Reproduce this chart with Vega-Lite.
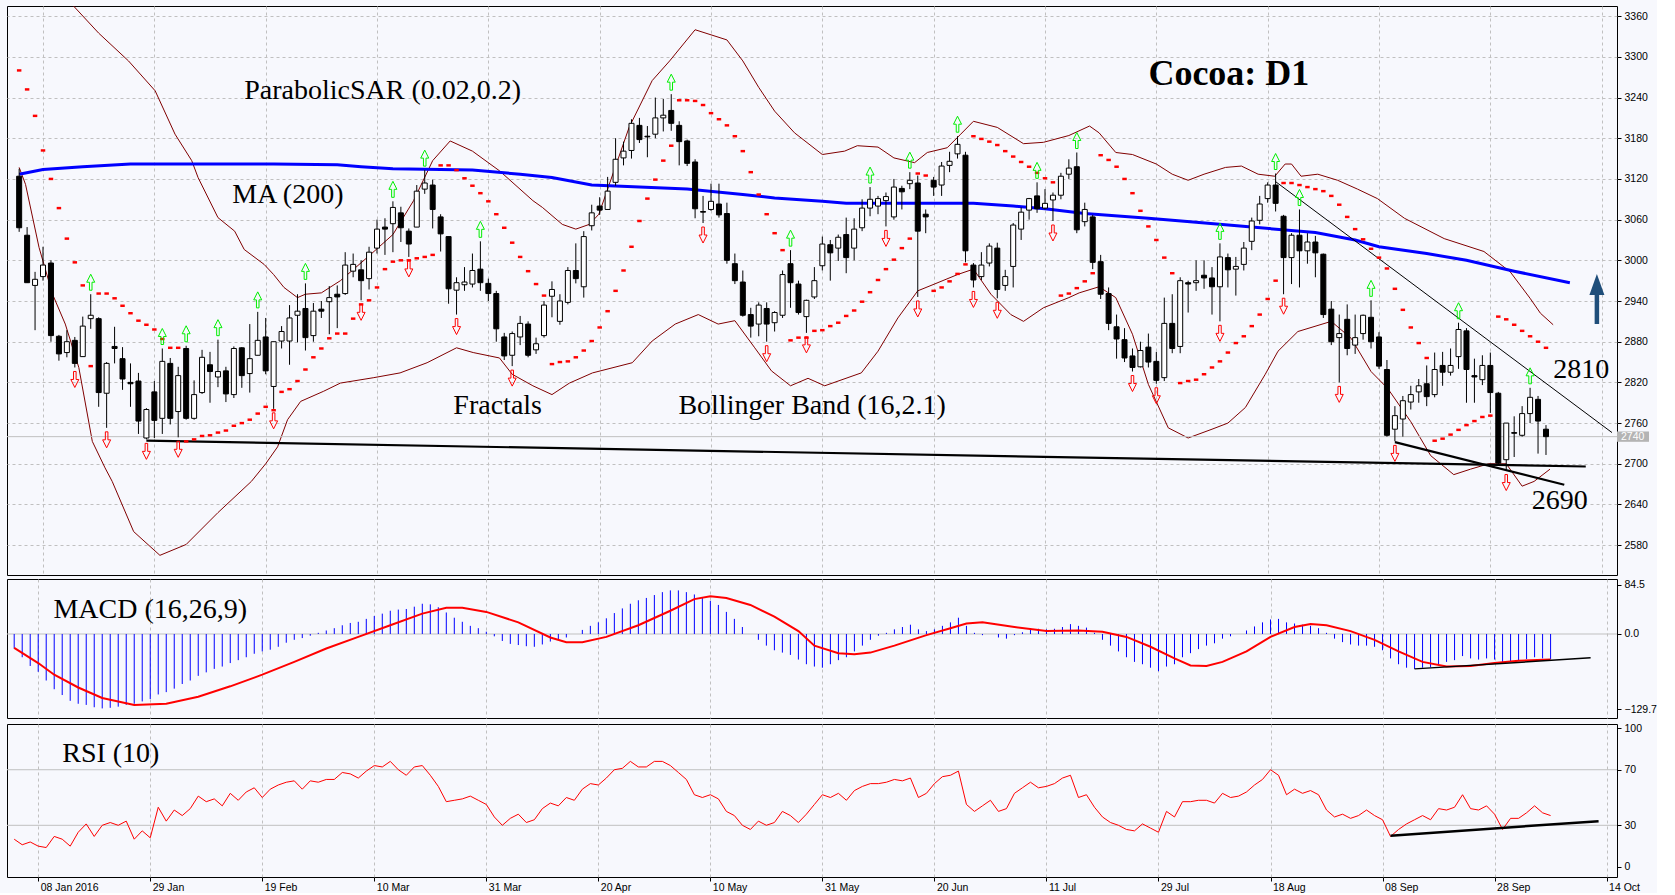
{
"$schema": "https://vega.github.io/schema/vega-lite/v6.json",
"background": "#F7F8FD",
"padding": {"left": 6, "top": 5, "right": 0, "bottom": 0},
"spacing": 2,
"config": {
  "view": {"stroke": "#000000", "strokeWidth": 1},
  "axis": {"labelFont": "Liberation Sans", "labelFontSize": 10.5, "labelColor": "#000000", "tickColor": "#000000", "domain": false, "labelFlush": false, "labelOverlap": false, "gridColor": "#C0C0C0", "gridDash": [3, 3], "gridWidth": 1}
},
"datasets": {
"bars": [
{"i":-3,"o":3124,"h":3135,"l":3042,"c":3048,"s":3280,"m":-25,"r":20},
{"i":-2,"o":3037,"h":3049,"l":2967,"c":2967,"s":3252,"m":-40,"r":16},
{"i":-1,"o":2963,"h":2983,"l":2897,"c":2972,"s":3213,"m":-55,"r":18},
{"i":0,"o":2976,"h":3020,"l":2970,"c":2993,"s":3162,"m":-65,"r":15},
{"i":1,"o":2996,"h":3000,"l":2880,"c":2889,"s":3120,"m":-80,"r":14},
{"i":2,"o":2888,"h":2890,"l":2852,"c":2862,"s":3077,"m":-95,"r":22},
{"i":3,"o":2864,"h":2897,"l":2857,"c":2880,"s":3032,"m":-105,"r":20},
{"i":4,"o":2882,"h":2887,"l":2842,"c":2848,"s":2997,"m":-115,"r":15,"fd":1},
{"i":5,"o":2858,"h":2917,"l":2858,"c":2903,"s":2963,"m":-120,"r":25},
{"i":6,"o":2914,"h":2950,"l":2899,"c":2919,"s":2844,"m":-122,"r":31,"fu":1},
{"i":7,"o":2914,"h":2916,"l":2784,"c":2805,"s":2951,"m":-126,"r":22},
{"i":8,"o":2804,"h":2850,"l":2753,"c":2848,"s":2951,"m":-128,"r":30,"fd":1},
{"i":9,"o":2873,"h":2902,"l":2848,"c":2870,"s":2944,"m":-127,"r":32},
{"i":10,"o":2855,"h":2872,"l":2809,"c":2825,"s":2933,"m":-125,"r":30},
{"i":11,"o":2820,"h":2848,"l":2784,"c":2818,"s":2922,"m":-122,"r":33},
{"i":12,"o":2822,"h":2834,"l":2744,"c":2763,"s":2911,"m":-120,"r":20},
{"i":13,"o":2738,"h":2782,"l":2736,"c":2780,"s":2905,"m":-116,"r":26,"fd":1},
{"i":14,"o":2806,"h":2822,"l":2738,"c":2764,"s":2898,"m":-112,"r":21},
{"i":15,"o":2767,"h":2870,"l":2744,"c":2851,"s":2884,"m":-104,"r":43,"fu":1},
{"i":16,"o":2848,"h":2856,"l":2758,"c":2767,"s":2871,"m":-100,"r":33},
{"i":17,"o":2777,"h":2843,"l":2739,"c":2830,"s":2871,"m":-94,"r":41,"fd":1},
{"i":18,"o":2870,"h":2874,"l":2765,"c":2767,"s":2733,"m":-86,"r":37,"fu":1},
{"i":19,"o":2767,"h":2823,"l":2765,"c":2802,"s":2736,"m":-80,"r":42},
{"i":20,"o":2805,"h":2868,"l":2803,"c":2857,"s":2741,"m":-72,"r":51},
{"i":21,"o":2846,"h":2865,"l":2790,"c":2836,"s":2742,"m":-66,"r":47},
{"i":22,"o":2828,"h":2883,"l":2813,"c":2836,"s":2746,"m":-60,"r":49,"fu":1},
{"i":23,"o":2837,"h":2843,"l":2791,"c":2803,"s":2749,"m":-56,"r":44},
{"i":24,"o":2802,"h":2873,"l":2797,"c":2870,"s":2756,"m":-50,"r":53},
{"i":25,"o":2871,"h":2872,"l":2812,"c":2830,"s":2760,"m":-45,"r":48},
{"i":26,"o":2833,"h":2906,"l":2805,"c":2855,"s":2765,"m":-40,"r":54},
{"i":27,"o":2860,"h":2924,"l":2860,"c":2882,"s":2774,"m":-34,"r":57,"fu":1},
{"i":28,"o":2887,"h":2915,"l":2832,"c":2837,"s":2784,"m":-30,"r":50},
{"i":29,"o":2814,"h":2880,"l":2781,"c":2880,"s":2779,"m":-27,"r":56,"fd":1},
{"i":30,"o":2881,"h":2903,"l":2870,"c":2895,"s":2806,"m":-22,"r":59},
{"i":31,"o":2881,"h":2934,"l":2846,"c":2915,"s":2810,"m":-15,"r":61},
{"i":32,"o":2919,"h":2950,"l":2879,"c":2925,"s":2822,"m":-10,"r":62},
{"i":33,"o":2929,"h":2966,"l":2867,"c":2886,"s":2839,"m":-7,"r":56,"fu":1},
{"i":34,"o":2889,"h":2937,"l":2880,"c":2925,"s":2857,"m":-3,"r":62},
{"i":35,"o":2928,"h":2940,"l":2915,"c":2925,"s":2870,"m":2,"r":61},
{"i":36,"o":2939,"h":2962,"l":2891,"c":2945,"s":2885,"m":6,"r":63},
{"i":37,"o":2950,"h":2963,"l":2900,"c":2946,"s":2892,"m":10,"r":63},
{"i":38,"o":2951,"h":3012,"l":2949,"c":2993,"s":2892,"m":15,"r":68},
{"i":39,"o":2984,"h":3010,"l":2975,"c":2994,"s":2914,"m":19,"r":67},
{"i":40,"o":2986,"h":3000,"l":2941,"c":2970,"s":2935,"m":21,"r":64,"fd":1},
{"i":41,"o":2973,"h":3020,"l":2957,"c":3012,"s":2941,"m":26,"r":69},
{"i":42,"o":3018,"h":3060,"l":3010,"c":3046,"s":2960,"m":31,"r":73},
{"i":43,"o":3049,"h":3062,"l":3008,"c":3046,"s":2987,"m":35,"r":72},
{"i":44,"o":3054,"h":3087,"l":3012,"c":3078,"s":2998,"m":40,"r":76,"fu":1},
{"i":45,"o":3070,"h":3079,"l":3027,"c":3048,"s":3000,"m":42,"r":70},
{"i":46,"o":3043,"h":3047,"l":3005,"c":3024,"s":3000,"m":43,"r":66,"fd":1},
{"i":47,"o":3049,"h":3111,"l":3049,"c":3102,"s":3003,"m":47,"r":72},
{"i":48,"o":3105,"h":3133,"l":3098,"c":3114,"s":3005,"m":52,"r":73,"fu":1},
{"i":49,"o":3111,"h":3119,"l":3047,"c":3075,"s":3008,"m":51,"r":66},
{"i":50,"o":3064,"h":3068,"l":3013,"c":3039,"s":3140,"m":46,"r":58},
{"i":51,"o":3035,"h":3035,"l":2936,"c":2958,"s":3140,"m":37,"r":47},
{"i":52,"o":2956,"h":2975,"l":2920,"c":2967,"s":3133,"m":28,"r":48,"fd":1},
{"i":53,"o":2964,"h":2990,"l":2955,"c":2968,"s":3121,"m":21,"r":49},
{"i":54,"o":2965,"h":3010,"l":2960,"c":2985,"s":3110,"m":14,"r":51},
{"i":55,"o":2987,"h":3028,"l":2955,"c":2967,"s":3099,"m":10,"r":48,"fu":1},
{"i":56,"o":2966,"h":2973,"l":2940,"c":2951,"s":3087,"m":4,"r":45},
{"i":57,"o":2951,"h":2955,"l":2880,"c":2899,"s":3068,"m":-4,"r":36},
{"i":58,"o":2887,"h":2893,"l":2853,"c":2859,"s":3048,"m":-12,"r":30},
{"i":59,"o":2860,"h":2895,"l":2844,"c":2892,"s":3026,"m":-17,"r":35,"fd":1},
{"i":60,"o":2887,"h":2918,"l":2875,"c":2907,"s":3005,"m":-19,"r":38},
{"i":61,"o":2906,"h":2910,"l":2857,"c":2860,"s":2984,"m":-21,"r":32},
{"i":62,"o":2868,"h":2886,"l":2862,"c":2877,"s":2965,"m":-22,"r":34},
{"i":63,"o":2889,"h":2940,"l":2886,"c":2934,"s":2948,"m":-18,"r":42},
{"i":64,"o":2947,"h":2969,"l":2916,"c":2957,"s":2847,"m":-13,"r":46},
{"i":65,"o":2910,"h":2950,"l":2905,"c":2940,"s":2850,"m":-10,"r":44},
{"i":66,"o":2938,"h":2990,"l":2935,"c":2985,"s":2851,"m":-6,"r":50},
{"i":67,"o":2985,"h":3025,"l":2966,"c":2973,"s":2857,"m":0,"r":48},
{"i":68,"o":2961,"h":3043,"l":2945,"c":3035,"s":2867,"m":7,"r":56},
{"i":69,"o":3051,"h":3082,"l":3044,"c":3070,"s":2881,"m":14,"r":60},
{"i":70,"o":3080,"h":3093,"l":3067,"c":3074,"s":2901,"m":20,"r":59},
{"i":71,"o":3075,"h":3123,"l":3075,"c":3102,"s":2925,"m":27,"r":64},
{"i":72,"o":3115,"h":3180,"l":3110,"c":3149,"s":2955,"m":36,"r":70},
{"i":73,"o":3151,"h":3175,"l":3140,"c":3161,"s":2985,"m":44,"r":71},
{"i":74,"o":3162,"h":3208,"l":3150,"c":3202,"s":3020,"m":52,"r":76},
{"i":75,"o":3199,"h":3210,"l":3173,"c":3178,"s":3058,"m":58,"r":72},
{"i":76,"o":3183,"h":3198,"l":3152,"c":3182,"s":3091,"m":62,"r":72},
{"i":77,"o":3186,"h":3240,"l":3180,"c":3210,"s":3119,"m":67,"r":76},
{"i":78,"o":3210,"h":3238,"l":3190,"c":3214,"s":3147,"m":72,"r":76},
{"i":79,"o":3221,"h":3245,"l":3191,"c":3202,"s":3169,"m":75,"r":73,"fu":1},
{"i":80,"o":3199,"h":3205,"l":3140,"c":3175,"s":3236,"m":75,"r":68},
{"i":81,"o":3176,"h":3178,"l":3139,"c":3143,"s":3236,"m":72,"r":63},
{"i":82,"o":3145,"h":3149,"l":3062,"c":3076,"s":3235,"m":68,"r":52},
{"i":83,"o":3072,"h":3095,"l":3055,"c":3071,"s":3229,"m":62,"r":50,"fd":1},
{"i":84,"o":3075,"h":3113,"l":3073,"c":3087,"s":3217,"m":57,"r":52},
{"i":85,"o":3083,"h":3113,"l":3063,"c":3067,"s":3208,"m":50,"r":49},
{"i":86,"o":3069,"h":3085,"l":2995,"c":3000,"s":3199,"m":38,"r":40},
{"i":87,"o":2995,"h":3010,"l":2965,"c":2970,"s":3183,"m":26,"r":37},
{"i":88,"o":2968,"h":2985,"l":2917,"c":2919,"s":3161,"m":12,"r":30},
{"i":89,"o":2920,"h":2930,"l":2886,"c":2903,"s":3130,"m":0,"r":27},
{"i":90,"o":2906,"h":2938,"l":2888,"c":2934,"s":3097,"m":-10,"r":33},
{"i":91,"o":2929,"h":2938,"l":2880,"c":2906,"s":3068,"m":-20,"r":30,"fd":1},
{"i":92,"o":2908,"h":2925,"l":2895,"c":2923,"s":3040,"m":-28,"r":32},
{"i":93,"o":2919,"h":2985,"l":2915,"c":2979,"s":3015,"m":-32,"r":40},
{"i":94,"o":2995,"h":3015,"l":2930,"c":2967,"s":2882,"m":-36,"r":37,"fu":1},
{"i":95,"o":2965,"h":2970,"l":2920,"c":2923,"s":2886,"m":-44,"r":32},
{"i":96,"o":2917,"h":2942,"l":2893,"c":2941,"s":2886,"m":-52,"r":38,"fd":1},
{"i":97,"o":2946,"h":2990,"l":2943,"c":2970,"s":2896,"m":-56,"r":45},
{"i":98,"o":2992,"h":3035,"l":2985,"c":3024,"s":2897,"m":-58,"r":52},
{"i":99,"o":3023,"h":3030,"l":2970,"c":3011,"s":2903,"m":-52,"r":50},
{"i":100,"o":3018,"h":3038,"l":2999,"c":3034,"s":2908,"m":-45,"r":53},
{"i":101,"o":3038,"h":3063,"l":2981,"c":3004,"s":2918,"m":-40,"r":48},
{"i":102,"o":3018,"h":3062,"l":3000,"c":3046,"s":2926,"m":-30,"r":55},
{"i":103,"o":3048,"h":3090,"l":3043,"c":3077,"s":2939,"m":-20,"r":58},
{"i":104,"o":3077,"h":3108,"l":3065,"c":3090,"s":2953,"m":-10,"r":60,"fu":1},
{"i":105,"o":3080,"h":3095,"l":3068,"c":3091,"s":2971,"m":-3,"r":60},
{"i":106,"o":3088,"h":3100,"l":3050,"c":3094,"s":2987,"m":2,"r":61,"fd":1},
{"i":107,"o":3064,"h":3120,"l":3060,"c":3108,"s":3001,"m":8,"r":63},
{"i":108,"o":3106,"h":3110,"l":3075,"c":3101,"s":3018,"m":12,"r":62},
{"i":109,"o":3113,"h":3130,"l":3105,"c":3118,"s":3032,"m":16,"r":64,"fu":1},
{"i":110,"o":3114,"h":3125,"l":2946,"c":3043,"s":3128,"m":8,"r":50,"fd":1},
{"i":111,"o":3068,"h":3075,"l":3040,"c":3064,"s":3125,"m":5,"r":53},
{"i":112,"o":3118,"h":3123,"l":3095,"c":3108,"s":2955,"m":8,"r":60},
{"i":113,"o":3111,"h":3145,"l":3095,"c":3139,"s":2960,"m":14,"r":65},
{"i":114,"o":3140,"h":3160,"l":3130,"c":3146,"s":2969,"m":20,"r":66},
{"i":115,"o":3157,"h":3183,"l":3150,"c":3171,"s":2980,"m":28,"r":69,"fu":1},
{"i":116,"o":3155,"h":3160,"l":2997,"c":3014,"s":2994,"m":14,"r":45},
{"i":117,"o":2993,"h":2996,"l":2960,"c":2971,"s":3183,"m":2,"r":40,"fd":1},
{"i":118,"o":2976,"h":3012,"l":2971,"c":2993,"s":3179,"m":-2,"r":44},
{"i":119,"o":2996,"h":3025,"l":2991,"c":3021,"s":3175,"m":0,"r":48},
{"i":120,"o":3018,"h":3026,"l":2944,"c":2957,"s":3170,"m":-6,"r":40,"fd":1},
{"i":121,"o":2963,"h":2986,"l":2955,"c":2976,"s":3161,"m":-8,"r":42},
{"i":122,"o":2991,"h":3055,"l":2960,"c":3052,"s":3153,"m":-2,"r":53},
{"i":123,"o":3046,"h":3078,"l":3030,"c":3071,"s":3145,"m":3,"r":57},
{"i":124,"o":3074,"h":3092,"l":3060,"c":3091,"s":3138,"m":7,"r":61},
{"i":125,"o":3095,"h":3115,"l":3070,"c":3076,"s":3129,"m":9,"r":57,"fu":1},
{"i":126,"o":3077,"h":3105,"l":3075,"c":3084,"s":3121,"m":8,"r":58},
{"i":127,"o":3089,"h":3100,"l":3058,"c":3096,"s":3115,"m":9,"r":60,"fd":1},
{"i":128,"o":3096,"h":3129,"l":3090,"c":3124,"s":2948,"m":12,"r":64},
{"i":129,"o":3127,"h":3149,"l":3120,"c":3136,"s":2951,"m":17,"r":66},
{"i":130,"o":3138,"h":3159,"l":3040,"c":3045,"s":2959,"m":14,"r":50,"fu":1},
{"i":131,"o":3057,"h":3085,"l":3050,"c":3075,"s":2969,"m":11,"r":52},
{"i":132,"o":3064,"h":3067,"l":2987,"c":2997,"s":2981,"m":2,"r":43},
{"i":133,"o":2998,"h":3008,"l":2943,"c":2950,"s":3155,"m":-10,"r":36},
{"i":134,"o":2951,"h":2960,"l":2897,"c":2907,"s":3148,"m":-20,"r":32},
{"i":135,"o":2902,"h":2920,"l":2855,"c":2884,"s":3138,"m":-30,"r":30},
{"i":136,"o":2883,"h":2900,"l":2850,"c":2856,"s":3120,"m":-40,"r":27},
{"i":137,"o":2859,"h":2870,"l":2836,"c":2842,"s":3099,"m":-48,"r":26,"fd":1},
{"i":138,"o":2843,"h":2880,"l":2842,"c":2867,"s":3073,"m":-52,"r":31},
{"i":139,"o":2872,"h":2892,"l":2842,"c":2850,"s":3050,"m":-58,"r":28},
{"i":140,"o":2851,"h":2865,"l":2818,"c":2823,"s":3030,"m":-64,"r":25,"fd":1},
{"i":141,"o":2827,"h":2945,"l":2822,"c":2907,"s":3004,"m":-56,"r":40},
{"i":142,"o":2907,"h":2950,"l":2863,"c":2870,"s":2981,"m":-52,"r":36},
{"i":143,"o":2873,"h":2975,"l":2863,"c":2970,"s":2819,"m":-40,"r":47},
{"i":144,"o":2967,"h":2970,"l":2923,"c":2965,"s":2822,"m":-33,"r":47},
{"i":145,"o":2967,"h":3000,"l":2955,"c":2970,"s":2824,"m":-26,"r":48},
{"i":146,"o":2978,"h":3000,"l":2958,"c":2974,"s":2832,"m":-20,"r":48},
{"i":147,"o":2974,"h":2990,"l":2920,"c":2961,"s":2842,"m":-16,"r":46},
{"i":148,"o":2961,"h":3025,"l":2910,"c":3005,"s":2851,"m":-8,"r":53,"fu":1,"fd":1},
{"i":149,"o":3004,"h":3010,"l":2960,"c":2986,"s":2864,"m":-4,"r":50},
{"i":150,"o":2987,"h":3005,"l":2948,"c":2991,"s":2878,"m":0,"r":51},
{"i":151,"o":2994,"h":3027,"l":2985,"c":3018,"s":2888,"m":6,"r":54},
{"i":152,"o":3028,"h":3063,"l":3015,"c":3058,"s":2903,"m":13,"r":59},
{"i":153,"o":3059,"h":3095,"l":3053,"c":3083,"s":2920,"m":20,"r":63},
{"i":154,"o":3091,"h":3115,"l":3085,"c":3111,"s":2943,"m":25,"r":70},
{"i":155,"o":3111,"h":3128,"l":3072,"c":3084,"s":2970,"m":26,"r":66,"fu":1},
{"i":156,"o":3065,"h":3067,"l":2950,"c":3004,"s":3114,"m":20,"r":52,"fd":1},
{"i":157,"o":3004,"h":3040,"l":2965,"c":3037,"s":3114,"m":18,"r":56},
{"i":158,"o":3037,"h":3075,"l":2960,"c":3014,"s":3111,"m":16,"r":53,"fu":1},
{"i":159,"o":3014,"h":3040,"l":2995,"c":3027,"s":3108,"m":14,"r":55},
{"i":160,"o":3027,"h":3036,"l":2975,"c":3011,"s":3105,"m":10,"r":52},
{"i":161,"o":3009,"h":3010,"l":2915,"c":2920,"s":3102,"m":2,"r":41},
{"i":162,"o":2928,"h":2940,"l":2875,"c":2880,"s":3095,"m":-8,"r":36},
{"i":163,"o":2886,"h":2920,"l":2820,"c":2892,"s":3082,"m":-14,"r":38,"fd":1},
{"i":164,"o":2913,"h":2935,"l":2860,"c":2870,"s":3064,"m":-18,"r":35},
{"i":165,"o":2875,"h":2920,"l":2862,"c":2886,"s":3046,"m":-20,"r":37},
{"i":166,"o":2892,"h":2920,"l":2883,"c":2919,"s":3031,"m":-20,"r":41},
{"i":167,"o":2916,"h":2941,"l":2870,"c":2880,"s":3017,"m":-22,"r":37,"fu":1},
{"i":168,"o":2887,"h":2894,"l":2840,"c":2844,"s":3004,"m":-28,"r":34},
{"i":169,"o":2839,"h":2853,"l":2740,"c":2742,"s":2988,"m":-42,"r":22},
{"i":170,"o":2751,"h":2785,"l":2733,"c":2771,"s":2958,"m":-52,"r":27,"fd":1},
{"i":171,"o":2766,"h":2800,"l":2740,"c":2793,"s":2927,"m":-58,"r":31},
{"i":172,"o":2791,"h":2815,"l":2780,"c":2802,"s":2901,"m":-60,"r":34},
{"i":173,"o":2806,"h":2825,"l":2790,"c":2815,"s":2878,"m":-58,"r":37},
{"i":174,"o":2818,"h":2845,"l":2785,"c":2799,"s":2856,"m":-57,"r":34},
{"i":175,"o":2802,"h":2864,"l":2798,"c":2839,"s":2734,"m":-52,"r":42},
{"i":176,"o":2845,"h":2865,"l":2815,"c":2835,"s":2737,"m":-48,"r":41},
{"i":177,"o":2835,"h":2870,"l":2830,"c":2845,"s":2743,"m":-45,"r":43},
{"i":178,"o":2858,"h":2908,"l":2840,"c":2898,"s":2750,"m":-38,"r":52,"fu":1},
{"i":179,"o":2896,"h":2900,"l":2790,"c":2839,"s":2757,"m":-42,"r":42},
{"i":180,"o":2830,"h":2855,"l":2790,"c":2828,"s":2763,"m":-44,"r":41},
{"i":181,"o":2824,"h":2860,"l":2816,"c":2845,"s":2769,"m":-42,"r":44},
{"i":182,"o":2845,"h":2864,"l":2775,"c":2805,"s":2771,"m":-44,"r":38},
{"i":183,"o":2804,"h":2806,"l":2697,"c":2701,"s":2917,"m":-50,"r":27},
{"i":184,"o":2706,"h":2760,"l":2690,"c":2760,"s":2913,"m":-47,"r":35,"fd":1},
{"i":185,"o":2746,"h":2770,"l":2710,"c":2745,"s":2905,"m":-45,"r":35},
{"i":186,"o":2742,"h":2785,"l":2740,"c":2774,"s":2896,"m":-43,"r":39},
{"i":187,"o":2774,"h":2812,"l":2760,"c":2798,"s":2888,"m":-40,"r":44,"fu":1},
{"i":188,"o":2795,"h":2800,"l":2715,"c":2763,"s":2880,"m":-42,"r":39},
{"i":189,"o":2751,"h":2757,"l":2713,"c":2740,"s":2871,"m":-43,"r":37}
],
"ma": [
{"i":-3,"v":3127},{"i":0,"v":3134},{"i":5,"v":3138},{"i":11,"v":3142},{"i":29,"v":3142},{"i":37,"v":3141},{"i":40,"v":3138},{"i":44,"v":3135},{"i":54,"v":3133},{"i":60,"v":3127},{"i":64,"v":3122},{"i":69,"v":3111},{"i":75,"v":3108},{"i":81,"v":3105},{"i":88,"v":3097},{"i":92,"v":3092},{"i":98,"v":3087},{"i":101,"v":3084},{"i":117,"v":3084},{"i":122,"v":3080},{"i":126,"v":3076},{"i":131,"v":3069},{"i":139,"v":3062},{"i":145,"v":3056},{"i":152,"v":3049},{"i":160,"v":3041},{"i":165,"v":3030},{"i":168,"v":3020},{"i":174,"v":3010},{"i":179,"v":3000},{"i":185,"v":2984},{"i":192,"v":2967}
],
"bbu": [
{"i":-3,"v":3480},{"i":0,"v":3440},{"i":3.6,"v":3378},{"i":7,"v":3335},{"i":10.75,"v":3294},{"i":14.1,"v":3250},{"i":16.6,"v":3186},{"i":18.7,"v":3147},{"i":19.5,"v":3122},{"i":22,"v":3063},{"i":24.1,"v":3043},{"i":25.3,"v":3016},{"i":27.8,"v":2994},{"i":29,"v":2979},{"i":30.3,"v":2960},{"i":32,"v":2945},{"i":33,"v":2950},{"i":35,"v":2952},{"i":37.4,"v":2970},{"i":40.75,"v":3004},{"i":44,"v":3038},{"i":46.6,"v":3088},{"i":49,"v":3147},{"i":51.2,"v":3176},{"i":54,"v":3161},{"i":57.4,"v":3132},{"i":61.6,"v":3088},{"i":62.8,"v":3078},{"i":65.3,"v":3053},{"i":67,"v":3046},{"i":68.7,"v":3053},{"i":69.9,"v":3068},{"i":73.7,"v":3196},{"i":76.6,"v":3265},{"i":78.8,"v":3294},{"i":82,"v":3340},{"i":86,"v":3325},{"i":88,"v":3294},{"i":90,"v":3255},{"i":92,"v":3220},{"i":94.5,"v":3188},{"i":98,"v":3156},{"i":100.8,"v":3161},{"i":102.4,"v":3169},{"i":105,"v":3167},{"i":107,"v":3151},{"i":109.6,"v":3144},{"i":111.2,"v":3159},{"i":113.7,"v":3166},{"i":115.4,"v":3186},{"i":117,"v":3205},{"i":120,"v":3196},{"i":123.3,"v":3172},{"i":125.8,"v":3174},{"i":129,"v":3184},{"i":131.6,"v":3198},{"i":132.8,"v":3188},{"i":134.9,"v":3159},{"i":137,"v":3156},{"i":140,"v":3142},{"i":142,"v":3127},{"i":144,"v":3118},{"i":146,"v":3127},{"i":148.7,"v":3137},{"i":150.7,"v":3139},{"i":152.8,"v":3127},{"i":154.9,"v":3124},{"i":156.2,"v":3142},{"i":157,"v":3142},{"i":158.2,"v":3124},{"i":160.3,"v":3127},{"i":162.8,"v":3118},{"i":165.3,"v":3105},{"i":167.8,"v":3091},{"i":171.2,"v":3062},{"i":176.2,"v":3032},{"i":181.2,"v":3013},{"i":184.5,"v":2983},{"i":187,"v":2944},{"i":188.3,"v":2922},{"i":189.9,"v":2905}
],
"bbl": [
{"i":-3,"v":3137},{"i":-2.2,"v":3112},{"i":-0.5,"v":3019},{"i":1.2,"v":2950},{"i":2.8,"v":2906},{"i":4.5,"v":2842},{"i":6.2,"v":2733},{"i":7.8,"v":2694},{"i":8.7,"v":2674},{"i":11.4,"v":2600},{"i":14.7,"v":2565},{"i":18,"v":2581},{"i":22,"v":2628},{"i":26.2,"v":2674},{"i":28,"v":2700},{"i":29.5,"v":2725},{"i":30.75,"v":2765},{"i":32.4,"v":2792},{"i":35.3,"v":2807},{"i":37.4,"v":2819},{"i":41.6,"v":2827},{"i":44.9,"v":2834},{"i":48.3,"v":2849},{"i":52,"v":2871},{"i":54.1,"v":2864},{"i":57.4,"v":2856},{"i":59,"v":2832},{"i":61.6,"v":2815},{"i":64,"v":2802},{"i":66.2,"v":2819},{"i":69.1,"v":2834},{"i":74.1,"v":2849},{"i":76.6,"v":2881},{"i":79.5,"v":2906},{"i":82.4,"v":2920},{"i":84.9,"v":2906},{"i":87,"v":2911},{"i":89.5,"v":2871},{"i":91.6,"v":2837},{"i":94,"v":2815},{"i":96.2,"v":2826},{"i":98.3,"v":2815},{"i":102.9,"v":2834},{"i":105,"v":2866},{"i":107.5,"v":2915},{"i":110,"v":2955},{"i":112.1,"v":2965},{"i":115,"v":2979},{"i":117,"v":2987},{"i":119.2,"v":2950},{"i":121.7,"v":2920},{"i":123.3,"v":2910},{"i":125.8,"v":2930},{"i":129,"v":2945},{"i":130.3,"v":2952},{"i":132.8,"v":2961},{"i":134.9,"v":2945},{"i":137,"v":2891},{"i":139,"v":2817},{"i":141.5,"v":2753},{"i":144,"v":2738},{"i":147,"v":2751},{"i":149,"v":2760},{"i":151.2,"v":2783},{"i":153.7,"v":2832},{"i":155.3,"v":2866},{"i":157.8,"v":2895},{"i":162,"v":2910},{"i":164.5,"v":2885},{"i":167,"v":2836},{"i":169.1,"v":2811},{"i":172,"v":2762},{"i":174.5,"v":2712},{"i":177.4,"v":2684},{"i":179.5,"v":2692},{"i":181.8,"v":2700},{"i":184,"v":2700},{"i":186,"v":2667},{"i":187.5,"v":2674},{"i":189.5,"v":2692}
],
"sig": [
{"i":-3,"v":-24},{"i":0,"v":-50},{"i":2,"v":-70},{"i":5,"v":-92},{"i":8,"v":-110},{"i":12,"v":-122},{"i":16,"v":-120},{"i":20,"v":-108},{"i":24,"v":-90},{"i":28,"v":-70},{"i":32,"v":-48},{"i":36,"v":-25},{"i":40,"v":-5},{"i":44,"v":15},{"i":48,"v":35},{"i":51,"v":45},{"i":53,"v":45},{"i":56,"v":38},{"i":60,"v":20},{"i":64,"v":-6},{"i":66,"v":-14},{"i":68,"v":-14},{"i":71,"v":-5},{"i":75,"v":15},{"i":79,"v":40},{"i":82,"v":60},{"i":84,"v":65},{"i":86,"v":62},{"i":89,"v":50},{"i":92,"v":30},{"i":95,"v":5},{"i":97,"v":-20},{"i":100,"v":-33},{"i":102,"v":-35},{"i":104,"v":-32},{"i":107,"v":-20},{"i":111,"v":-2},{"i":114,"v":10},{"i":116,"v":18},{"i":118,"v":20},{"i":122,"v":12},{"i":126,"v":5},{"i":130,"v":6},{"i":133,"v":4},{"i":136,"v":-5},{"i":139,"v":-22},{"i":142,"v":-42},{"i":144,"v":-54},{"i":146,"v":-55},{"i":148,"v":-48},{"i":151,"v":-30},{"i":154,"v":-5},{"i":157,"v":12},{"i":159,"v":17},{"i":161,"v":15},{"i":164,"v":5},{"i":167,"v":-10},{"i":170,"v":-30},{"i":173,"v":-48},{"i":176,"v":-56},{"i":179,"v":-55},{"i":182,"v":-50},{"i":185,"v":-46},{"i":189,"v":-44}
],
"tl": [
{"g":"sup","i":13,"v":2734},{"g":"sup","i":194,"v":2696},
{"g":"fall","i":155,"v":3116},{"g":"fall","i":197.3,"v":2746},
{"g":"fall2","i":170,"v":2732},{"g":"fall2","i":191.3,"v":2669},
{"g":"mtl","i":172,"v":-60},{"g":"mtl","i":194,"v":-41},
{"g":"rtl","i":169,"v":22.5},{"g":"rtl","i":195,"v":33}
],
"txt": [
{"k":"main","t":"ParabolicSAR (0.02,0.2)","i":25.3,"v":3250},
{"k":"main","t":"MA (200)","i":23.8,"v":3097},
{"k":"main","t":"Fractals","i":51.6,"v":2785},
{"k":"main","t":"Bollinger Band (16,2.1)","i":79.9,"v":2785},
{"k":"main","t":"2810","i":189.9,"v":2839},
{"k":"main","t":"2690","i":187.2,"v":2645},
{"k":"title","t":"Cocoa: D1","i":139,"v":3275},
{"k":"macd","t":"MACD (16,26,9)","i":1.9,"v":40.8},
{"k":"rsi","t":"RSI (10)","i":3,"v":81.6},
{"k":"arrow","t":"","i":195.4,"v":2906}
]
},
"vconcat": [
{
"width": 1610, "height": 569,
"encoding": {"x": {"field": "i", "type": "quantitative", "scale": {"domain": [-3.9, 197.3], "nice": false, "zero": false}, "axis": {"values": [0,14,28,42,56,70,84,98,112,126,140,154,168,182,196], "grid": true, "labels": false, "ticks": false, "title": null}}},
"layer": [
{"data": {"name": "bbu"}, "mark": {"type": "line", "color": "#800000", "strokeWidth": 1, "clip": true},
 "encoding": {"y": {"field": "v", "type": "quantitative", "scale": {"domain": [2536, 3375], "nice": false, "zero": false}, "axis": {"orient": "right", "values": [2580,2640,2700,2760,2820,2880,2940,3000,3060,3120,3180,3240,3300,3360], "format": "d", "grid": true, "ticks": true, "tickSize": 4, "labelPadding": 3, "title": null}}}},
{"data": {"name": "bbl"}, "mark": {"type": "line", "color": "#800000", "strokeWidth": 1, "clip": true},
 "encoding": {"y": {"field": "v", "type": "quantitative", "scale": {"domain": [2536, 3375], "nice": false, "zero": false}, "axis": {"orient": "right", "values": [2580,2640,2700,2760,2820,2880,2940,3000,3060,3120,3180,3240,3300,3360], "format": "d", "grid": true, "ticks": true, "tickSize": 4, "labelPadding": 3, "title": null}}}},
{"data": {"name": "ma"}, "mark": {"type": "line", "color": "#0000FF", "strokeWidth": 3, "clip": true},
 "encoding": {"y": {"field": "v", "type": "quantitative", "scale": {"domain": [2536, 3375], "nice": false, "zero": false}, "axis": {"orient": "right", "values": [2580,2640,2700,2760,2820,2880,2940,3000,3060,3120,3180,3240,3300,3360], "format": "d", "grid": true, "ticks": true, "tickSize": 4, "labelPadding": 3, "title": null}}}},
{"data": {"name": "bars"}, "transform": [{"filter": "datum.i == 189"}], "mark": {"type": "rule", "color": "#C0C0C0", "strokeWidth": 1},
 "encoding": {"x": {"value": 0}, "x2": {"value": "width"}, "y": {"field": "c", "type": "quantitative", "scale": {"domain": [2536, 3375], "nice": false, "zero": false}, "axis": {"orient": "right", "values": [2580,2640,2700,2760,2820,2880,2940,3000,3060,3120,3180,3240,3300,3360], "format": "d", "grid": true, "ticks": true, "tickSize": 4, "labelPadding": 3, "title": null}}}},
{"data": {"name": "tl"}, "transform": [{"filter": "datum.g == 'sup' || datum.g == 'fall2'"}], "mark": {"type": "line", "color": "#000000", "strokeWidth": 2.2, "clip": true},
 "encoding": {"detail": {"field": "g"}, "y": {"field": "v", "type": "quantitative", "scale": {"domain": [2536, 3375], "nice": false, "zero": false}, "axis": {"orient": "right", "values": [2580,2640,2700,2760,2820,2880,2940,3000,3060,3120,3180,3240,3300,3360], "format": "d", "grid": true, "ticks": true, "tickSize": 4, "labelPadding": 3, "title": null}}}},
{"data": {"name": "tl"}, "transform": [{"filter": "datum.g == 'fall'"}], "mark": {"type": "line", "color": "#000000", "strokeWidth": 1, "clip": true},
 "encoding": {"y": {"field": "v", "type": "quantitative", "scale": {"domain": [2536, 3375], "nice": false, "zero": false}, "axis": {"orient": "right", "values": [2580,2640,2700,2760,2820,2880,2940,3000,3060,3120,3180,3240,3300,3360], "format": "d", "grid": true, "ticks": true, "tickSize": 4, "labelPadding": 3, "title": null}}}},
{"data": {"name": "bars"}, "mark": {"type": "rule", "color": "#000000", "strokeWidth": 1},
 "encoding": {"y": {"field": "l", "type": "quantitative", "scale": {"domain": [2536, 3375], "nice": false, "zero": false}, "axis": {"orient": "right", "values": [2580,2640,2700,2760,2820,2880,2940,3000,3060,3120,3180,3240,3300,3360], "format": "d", "grid": true, "ticks": true, "tickSize": 4, "labelPadding": 3, "title": null}}, "y2": {"field": "h"}}},
{"data": {"name": "bars"}, "mark": {"type": "bar", "width": 5, "stroke": "#000000", "strokeWidth": 1},
 "encoding": {"y": {"field": "o", "type": "quantitative", "scale": {"domain": [2536, 3375], "nice": false, "zero": false}, "axis": {"orient": "right", "values": [2580,2640,2700,2760,2820,2880,2940,3000,3060,3120,3180,3240,3300,3360], "format": "d", "grid": true, "ticks": true, "tickSize": 4, "labelPadding": 3, "title": null}}, "y2": {"field": "c"},
   "fill": {"condition": {"test": "datum.c > datum.o", "value": "#FFFFFF"}, "value": "#000000"}}},
{"data": {"name": "bars"}, "mark": {"type": "point", "shape": "M-1,-0.55L1,-0.55L1,0.55L-1,0.55Z", "size": 20, "filled": true, "color": "#FF0000", "opacity": 1},
 "encoding": {"y": {"field": "s", "type": "quantitative", "scale": {"domain": [2536, 3375], "nice": false, "zero": false}, "axis": {"orient": "right", "values": [2580,2640,2700,2760,2820,2880,2940,3000,3060,3120,3180,3240,3300,3360], "format": "d", "grid": true, "ticks": true, "tickSize": 4, "labelPadding": 3, "title": null}}}},
{"data": {"name": "bars"}, "transform": [{"filter": "datum.fu == 1"}], "mark": {"type": "point", "shape": "M0,-2.5L0.5,-1.5L0.16,-1.5L0.16,-0.5L-0.16,-0.5L-0.16,-1.5L-0.5,-1.5Z", "size": 256, "filled": false, "stroke": "#00EE00", "strokeWidth": 1, "opacity": 1},
 "encoding": {"y": {"field": "h", "type": "quantitative", "scale": {"domain": [2536, 3375], "nice": false, "zero": false}, "axis": {"orient": "right", "values": [2580,2640,2700,2760,2820,2880,2940,3000,3060,3120,3180,3240,3300,3360], "format": "d", "grid": true, "ticks": true, "tickSize": 4, "labelPadding": 3, "title": null}}}},
{"data": {"name": "bars"}, "transform": [{"filter": "datum.fd == 1"}], "mark": {"type": "point", "shape": "M0,2.5L0.5,1.5L0.16,1.5L0.16,0.5L-0.16,0.5L-0.16,1.5L-0.5,1.5Z", "size": 256, "filled": false, "stroke": "#FF0000", "strokeWidth": 1, "opacity": 1},
 "encoding": {"y": {"field": "l", "type": "quantitative", "scale": {"domain": [2536, 3375], "nice": false, "zero": false}, "axis": {"orient": "right", "values": [2580,2640,2700,2760,2820,2880,2940,3000,3060,3120,3180,3240,3300,3360], "format": "d", "grid": true, "ticks": true, "tickSize": 4, "labelPadding": 3, "title": null}}}},
{"data": {"name": "txt"}, "transform": [{"filter": "datum.k == 'main'"}], "mark": {"type": "text", "font": "Liberation Serif", "fontSize": 28, "align": "left", "baseline": "middle", "color": "#000000"},
 "encoding": {"text": {"field": "t"}, "y": {"field": "v", "type": "quantitative", "scale": {"domain": [2536, 3375], "nice": false, "zero": false}, "axis": {"orient": "right", "values": [2580,2640,2700,2760,2820,2880,2940,3000,3060,3120,3180,3240,3300,3360], "format": "d", "grid": true, "ticks": true, "tickSize": 4, "labelPadding": 3, "title": null}}}},
{"data": {"name": "txt"}, "transform": [{"filter": "datum.k == 'title'"}], "mark": {"type": "text", "font": "Liberation Serif", "fontSize": 36, "fontWeight": "bold", "align": "left", "baseline": "middle", "color": "#000000"},
 "encoding": {"text": {"field": "t"}, "y": {"field": "v", "type": "quantitative", "scale": {"domain": [2536, 3375], "nice": false, "zero": false}, "axis": {"orient": "right", "values": [2580,2640,2700,2760,2820,2880,2940,3000,3060,3120,3180,3240,3300,3360], "format": "d", "grid": true, "ticks": true, "tickSize": 4, "labelPadding": 3, "title": null}}}},
{"data": {"name": "txt"}, "transform": [{"filter": "datum.k == 'arrow'"}], "mark": {"type": "point", "shape": "M0,-2L0.3,-1.16L0.09,-1.16L0.09,0L-0.09,0L-0.09,-1.16L-0.3,-1.16Z", "size": 2500, "filled": true, "color": "#1F4E7A", "opacity": 1},
 "encoding": {"y": {"field": "v", "type": "quantitative", "scale": {"domain": [2536, 3375], "nice": false, "zero": false}, "axis": {"orient": "right", "values": [2580,2640,2700,2760,2820,2880,2940,3000,3060,3120,3180,3240,3300,3360], "format": "d", "grid": true, "ticks": true, "tickSize": 4, "labelPadding": 3, "title": null}}}},
{"data": {"name": "bars"}, "transform": [{"filter": "datum.i == 189"}], "mark": {"type": "point", "shape": "M0,-0.42L2.6,-0.42L2.6,0.42L0,0.42Z", "size": 605, "filled": true, "color": "#B4B4B4", "opacity": 1},
 "encoding": {"x": {"value": "width"}, "y": {"field": "c", "type": "quantitative", "scale": {"domain": [2536, 3375], "nice": false, "zero": false}, "axis": {"orient": "right", "values": [2580,2640,2700,2760,2820,2880,2940,3000,3060,3120,3180,3240,3300,3360], "format": "d", "grid": true, "ticks": true, "tickSize": 4, "labelPadding": 3, "title": null}}}},
{"data": {"name": "bars"}, "transform": [{"filter": "datum.i == 189"}], "mark": {"type": "text", "font": "Liberation Sans", "fontSize": 10.5, "align": "left", "baseline": "middle", "dx": 4, "color": "#FFFFFF"},
 "encoding": {"x": {"value": "width"}, "text": {"field": "c", "format": "d"}, "y": {"field": "c", "type": "quantitative", "scale": {"domain": [2536, 3375], "nice": false, "zero": false}, "axis": {"orient": "right", "values": [2580,2640,2700,2760,2820,2880,2940,3000,3060,3120,3180,3240,3300,3360], "format": "d", "grid": true, "ticks": true, "tickSize": 4, "labelPadding": 3, "title": null}}}}
]
},
{
"spacing": 3,
"vconcat": [
{
"width": 1610, "height": 139,
"encoding": {"x": {"field": "i", "type": "quantitative", "scale": {"domain": [-3.9, 197.3], "nice": false, "zero": false}, "axis": {"values": [0,14,28,42,56,70,84,98,112,126,140,154,168,182,196], "grid": true, "labels": false, "ticks": false, "title": null}}},
"layer": [
{"data": {"name": "bars"}, "transform": [{"filter": "datum.i == 189"}], "mark": {"type": "rule", "color": "#C0C0C0", "strokeWidth": 1},
 "encoding": {"x": {"value": 0}, "x2": {"value": "width"}, "y": {"datum": 0, "type": "quantitative", "scale": {"domain": [-144.5, 94.6], "nice": false, "zero": false}, "axis": {"orient": "right", "values": [-129.7, 0, 84.5], "format": ".1f", "grid": false, "ticks": true, "tickSize": 4, "labelPadding": 3, "title": null}}}},
{"data": {"name": "bars"}, "mark": {"type": "rule", "color": "#0000FF", "strokeWidth": 1},
 "encoding": {"y": {"field": "m", "type": "quantitative", "scale": {"domain": [-144.5, 94.6], "nice": false, "zero": false}, "axis": {"orient": "right", "values": [-129.7, 0, 84.5], "format": ".1f", "grid": false, "ticks": true, "tickSize": 4, "labelPadding": 3, "title": null}}, "y2": {"datum": 0}}},
{"data": {"name": "sig"}, "mark": {"type": "line", "color": "#FF0000", "strokeWidth": 2},
 "encoding": {"y": {"field": "v", "type": "quantitative", "scale": {"domain": [-144.5, 94.6], "nice": false, "zero": false}, "axis": {"orient": "right", "values": [-129.7, 0, 84.5], "format": ".1f", "grid": false, "ticks": true, "tickSize": 4, "labelPadding": 3, "title": null}}}},
{"data": {"name": "tl"}, "transform": [{"filter": "datum.g == 'mtl'"}], "mark": {"type": "line", "color": "#000000", "strokeWidth": 1.5},
 "encoding": {"y": {"field": "v", "type": "quantitative", "scale": {"domain": [-144.5, 94.6], "nice": false, "zero": false}, "axis": {"orient": "right", "values": [-129.7, 0, 84.5], "format": ".1f", "grid": false, "ticks": true, "tickSize": 4, "labelPadding": 3, "title": null}}}},
{"data": {"name": "txt"}, "transform": [{"filter": "datum.k == 'macd'"}], "mark": {"type": "text", "font": "Liberation Serif", "fontSize": 28, "align": "left", "baseline": "middle", "color": "#000000"},
 "encoding": {"text": {"field": "t"}, "y": {"field": "v", "type": "quantitative", "scale": {"domain": [-144.5, 94.6], "nice": false, "zero": false}, "axis": {"orient": "right", "values": [-129.7, 0, 84.5], "format": ".1f", "grid": false, "ticks": true, "tickSize": 4, "labelPadding": 3, "title": null}}}}
]
},
{
"width": 1610, "height": 153,
"encoding": {"x": {"field": "i", "type": "quantitative", "scale": {"domain": [-3.9, 197.3], "nice": false, "zero": false}, "axis": {"values": [0,14,28,42,56,70,84,98,112,126,140,154,168,182,196], "grid": true, "labels": true, "ticks": true, "tickSize": 4, "labelAlign": "left", "labelPadding": 1, "labelOffset": 2, "labelExpr": "['08 Jan 2016','29 Jan','19 Feb','10 Mar','31 Mar','20 Apr','10 May','31 May','20 Jun','11 Jul','29 Jul','18 Aug','08 Sep','28 Sep','14 Oct'][round(datum.value/14)]", "title": null}}},
"layer": [
{"data": {"name": "bars"}, "transform": [{"filter": "datum.i == 189"}], "mark": {"type": "rule", "color": "#C0C0C0", "strokeWidth": 1},
 "encoding": {"x": {"value": 0}, "x2": {"value": "width"}, "y": {"datum": 70, "type": "quantitative", "scale": {"domain": [-7.2, 102.9], "nice": false, "zero": false}, "axis": {"orient": "right", "values": [0, 30, 70, 100], "format": "d", "grid": false, "ticks": true, "tickSize": 4, "labelPadding": 3, "title": null}}}},
{"data": {"name": "bars"}, "transform": [{"filter": "datum.i == 189"}], "mark": {"type": "rule", "color": "#C0C0C0", "strokeWidth": 1},
 "encoding": {"x": {"value": 0}, "x2": {"value": "width"}, "y": {"datum": 30, "type": "quantitative", "scale": {"domain": [-7.2, 102.9], "nice": false, "zero": false}, "axis": {"orient": "right", "values": [0, 30, 70, 100], "format": "d", "grid": false, "ticks": true, "tickSize": 4, "labelPadding": 3, "title": null}}}},
{"data": {"name": "bars"}, "mark": {"type": "line", "color": "#FF0000", "strokeWidth": 1},
 "encoding": {"y": {"field": "r", "type": "quantitative", "scale": {"domain": [-7.2, 102.9], "nice": false, "zero": false}, "axis": {"orient": "right", "values": [0, 30, 70, 100], "format": "d", "grid": false, "ticks": true, "tickSize": 4, "labelPadding": 3, "title": null}}}},
{"data": {"name": "tl"}, "transform": [{"filter": "datum.g == 'rtl'"}], "mark": {"type": "line", "color": "#000000", "strokeWidth": 2.5},
 "encoding": {"y": {"field": "v", "type": "quantitative", "scale": {"domain": [-7.2, 102.9], "nice": false, "zero": false}, "axis": {"orient": "right", "values": [0, 30, 70, 100], "format": "d", "grid": false, "ticks": true, "tickSize": 4, "labelPadding": 3, "title": null}}}},
{"data": {"name": "txt"}, "transform": [{"filter": "datum.k == 'rsi'"}], "mark": {"type": "text", "font": "Liberation Serif", "fontSize": 28, "align": "left", "baseline": "middle", "color": "#000000"},
 "encoding": {"text": {"field": "t"}, "y": {"field": "v", "type": "quantitative", "scale": {"domain": [-7.2, 102.9], "nice": false, "zero": false}, "axis": {"orient": "right", "values": [0, 30, 70, 100], "format": "d", "grid": false, "ticks": true, "tickSize": 4, "labelPadding": 3, "title": null}}}}
]
}
]
}
]
}
